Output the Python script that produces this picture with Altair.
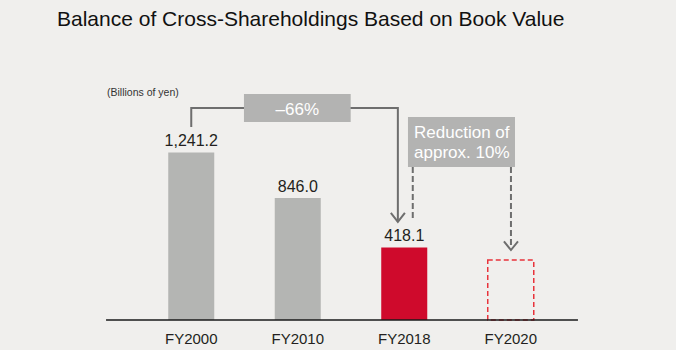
import altair as alt
import pandas as pd

# ---- data ----
years = ["FY2000", "FY2010", "FY2018", "FY2020"]
values = [1241.2, 846.0, 418.1, 310.0]        # FY2020: dashed projection, height
value_labels = ["1,241.2", "846.0", "418.1", ""]
kinds = ["past", "past", "current", "target"]

title_text = "Balance of Cross-Shareholdings Based on Book Value"
unit_text = "(Billions of yen)"
box1_text = "–66%"
box2_lines = ["Reduction of", "approx. 10%"]

# annotation geometry (x in category-index units 0..4, y in data units)
Y_MIN, Y_MAX = -210, 2215
conn_x = [0.5, 0.5, 2.44, 2.44]
conn_y = [1461, 1626, 1626, 639]
chev1_x = [2.374, 2.44, 2.506]
chev1_y = [717, 639, 717]
chev2_x = [3.436, 3.502, 3.568]
chev2_y = [470, 396, 470]
dash_x = [2.58, 3.502]
dash_y1 = [1115, 1115]
dash_y2 = [656, 414]
box_x1 = [0.995, 2.535]
box_x2 = [1.997, 3.540]
box_y1 = [1747, 1548]
box_y2 = [1505, 1115]
boxtext_x = [1.496, 3.04, 3.04]
boxtext_y = [1565, 1366, 1197]
unit_x, unit_y = [-0.291], [1756]
base_x1, base_x2, base_y = [-0.30], [4.131], [Y_MIN]

FONT = "Liberation Sans"
BG = "#f0efed"
GRAY_BAR = "#b4b5b3"
RED = "#cf0a2c"
LINE = "#6e6e6e"
BOX = "#b3b3b2"

df = pd.DataFrame({"year": years, "value": values, "label": value_labels, "kind": kinds})
df_solid = df[df.kind != "target"]
df_target = df[df.kind == "target"]

lines_rows = []
for i, (x, y) in enumerate(zip(conn_x, conn_y)):
    lines_rows.append({"x": x, "y": y, "seg": "conn", "ord": i})
for i, (x, y) in enumerate(zip(chev1_x, chev1_y)):
    lines_rows.append({"x": x, "y": y, "seg": "chev1", "ord": i})
for i, (x, y) in enumerate(zip(chev2_x, chev2_y)):
    lines_rows.append({"x": x, "y": y, "seg": "chev2", "ord": i})
df_lines = pd.DataFrame(lines_rows)
df_dash = pd.DataFrame({"x": dash_x, "y": dash_y1, "y2": dash_y2})
df_box = pd.DataFrame({"x": box_x1, "x2": box_x2, "y": box_y1, "y2": box_y2})
df_boxtext = pd.DataFrame({"x": boxtext_x, "y": boxtext_y, "t": [box1_text] + box2_lines})
df_unit = pd.DataFrame({"x": unit_x, "y": unit_y, "t": [unit_text]})
df_base = pd.DataFrame({"x": base_x1, "x2": base_x2, "y": base_y})

xband = alt.Scale(domain=years, paddingInner=0.568, paddingOuter=0.284)
yscale = alt.Scale(domain=[Y_MIN, Y_MAX], nice=False, zero=False)
lin = alt.Scale(domain=[0, 4], nice=False, zero=False)

X_axis = alt.Axis(title=None, domain=False, ticks=False, labelAngle=0, labelFontSize=15,
                  labelColor="#231f20", labelFont=FONT, labelPadding=11)

bars = alt.Chart(df_solid).mark_bar().encode(
    x=alt.X("year:N", scale=xband, sort=years, axis=X_axis),
    y=alt.Y("value:Q", scale=yscale, axis=None),
    y2=alt.datum(Y_MIN),
    color=alt.Color("kind:N", scale=alt.Scale(domain=["past", "current"], range=[GRAY_BAR, RED]), legend=None),
)

target = alt.Chart(df_target).mark_bar(fillOpacity=0, stroke="#e8333b", strokeWidth=1.5, strokeDash=[5, 3]).encode(
    x=alt.X("year:N", scale=xband, sort=years, axis=None),
    y=alt.Y("value:Q", scale=yscale, axis=None),
    y2=alt.datum(Y_MIN),
)

labels = alt.Chart(df_solid).mark_text(dy=-6, baseline="alphabetic", fontSize=16, color="#231f20", font=FONT).encode(
    x=alt.X("year:N", scale=xband, sort=years, axis=None),
    y=alt.Y("value:Q", scale=yscale, axis=None),
    text="label:N",
)

lines = alt.Chart(df_lines).mark_line(color=LINE, strokeWidth=2, strokeJoin="miter", strokeCap="butt").encode(
    x=alt.X("x:Q", scale=lin, axis=None),
    y=alt.Y("y:Q", scale=yscale, axis=None),
    detail="seg:N",
    order="ord:Q",
)

dashes = alt.Chart(df_dash).mark_rule(color=LINE, strokeWidth=2, strokeDash=[6, 3]).encode(
    x=alt.X("x:Q", scale=lin, axis=None),
    y=alt.Y("y:Q", scale=yscale, axis=None),
    y2="y2:Q",
)

boxes = alt.Chart(df_box).mark_rect(color=BOX).encode(
    x=alt.X("x:Q", scale=lin, axis=None),
    x2="x2:Q",
    y=alt.Y("y:Q", scale=yscale, axis=None),
    y2="y2:Q",
)

boxtexts = alt.Chart(df_boxtext).mark_text(color="white", fontSize=17, baseline="alphabetic", align="center", font=FONT).encode(
    x=alt.X("x:Q", scale=lin, axis=None),
    y=alt.Y("y:Q", scale=yscale, axis=None),
    text="t:N",
)

unit = alt.Chart(df_unit).mark_text(color="#333333", fontSize=10.5, baseline="middle", align="left", font=FONT).encode(
    x=alt.X("x:Q", scale=lin, axis=None),
    y=alt.Y("y:Q", scale=yscale, axis=None),
    text="t:N",
)

baseline = alt.Chart(df_base).mark_rule(color="#1a1a1a", strokeWidth=1.5).encode(
    x=alt.X("x:Q", scale=lin, axis=None),
    x2="x2:Q",
    y=alt.Y("y:Q", scale=yscale, axis=None),
)

chart = alt.layer(
    target, bars, labels, lines, boxes, boxtexts, dashes, unit, baseline
).resolve_scale(x="independent").properties(
    width=426,
    height=280,
    autosize=alt.AutoSizeParams(type="none"),
    padding={"left": 138, "top": 40, "right": 112, "bottom": 30},
    background=BG,
    title=alt.TitleParams(
        text=title_text, anchor="start", frame="group", dx=-81, dy=24, offset=17,
        baseline="alphabetic", fontSize=21, fontWeight="normal", font=FONT, color="#111111",
    ),
).configure_view(strokeWidth=0)

chart.save("out.html", embed_options={"renderer": "svg", "actions": False})
